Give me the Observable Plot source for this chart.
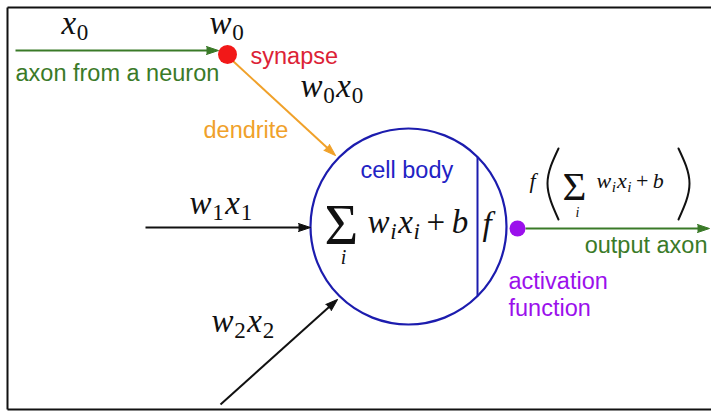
<!DOCTYPE html>
<html>
<head>
<meta charset="utf-8">
<script src="https://cdn.jsdelivr.net/npm/d3@7"></script>
<script src="https://cdn.jsdelivr.net/npm/@observablehq/plot@0.6"></script>
<style>
  html, body { margin: 0; padding: 0; background: #fff; }
  #chart svg { display: block; }
</style>
</head>
<body>
<div id="chart"></div>
<script>
// ---- Diagram data (coordinates in the 711 x 411 drawing space) ----
const arrows = [
  {id: "axon",     kind: "axon",     x1: 15,  y1: 50,  x2: 218, y2: 50},
  {id: "dendrite", kind: "dendrite", x1: 233, y1: 61,  x2: 335, y2: 155},
  {id: "input1",   kind: "input",    x1: 145, y1: 227, x2: 310, y2: 227},
  {id: "input2",   kind: "input",    x1: 220, y1: 404, x2: 337, y2: 299},
  {id: "output",   kind: "axon",     x1: 525, y1: 228, x2: 709, y2: 228}
];
const nodes = [
  {id: "synapse",    kind: "synapse",    x: 227, y: 54,  r: 9.5},
  {id: "activation", kind: "activation", x: 517, y: 228, r: 8}
];
const cellBody = [{cx: 408, cy: 226, r: 98, chordX: 477}];
const frameSegments = [
  {x1: 7, y1: 7,   x2: 711, y2: 7},
  {x1: 7, y1: 7,   x2: 7,   y2: 409},
  {x1: 7, y1: 409, x2: 711, y2: 409}
];
const wordLabels = [
  {text: "axon from a neuron", kind: "axon",        x: 15,  y: 80,  anchor: "start"},
  {text: "synapse",            kind: "synapseText", x: 250, y: 63,  anchor: "start"},
  {text: "dendrite",           kind: "dendrite",    x: 203, y: 137, anchor: "start"},
  {text: "cell body",          kind: "body",        x: 360, y: 177, anchor: "start"},
  {text: "output axon",        kind: "axon",        x: 707, y: 252, anchor: "end"},
  {text: "activation",         kind: "activation",  x: 508, y: 288, anchor: "start"},
  {text: "function",           kind: "activation",  x: 508, y: 315, anchor: "start"}
];
const mathLabels = [
  {tex: "x_0",        x: 61,  y: 33,  group: "big"},
  {tex: "w_0",        x: 209, y: 33,  group: "big"},
  {tex: "w_0x_0",     x: 300, y: 96,  group: "big"},
  {tex: "w_1x_1",     x: 189, y: 213, group: "big"},
  {tex: "w_2x_2",     x: 211, y: 331, group: "big"},
  {tex: "w_ix_i+b",   x: 367, y: 232, group: "big"},
  {tex: "f",          x: 482, y: 234, group: "big"},
  {tex: "f",          x: 529, y: 187, group: "small"},
  {tex: "w_ix_i+b",   x: 596, y: 187, group: "small"}
];
const sums = [
  {x: 324, y: 243, ix: 343, iy: 263, group: "big"},
  {x: 562, y: 199, ix: 577, iy: 216, group: "small"}
];
const parens = [
  {side: "left",  x: 558, y: 148}, {side: "left",  x: 547, y: 183}, {side: "left",  x: 558, y: 219},
  {side: "right", x: 678, y: 148}, {side: "right", x: 689, y: 183}, {side: "right", x: 678, y: 219}
];

// ---- Styles ----
const colors = {
  axon: "#3a7a28", dendrite: "#f0a12a", input: "#111111", synapse: "#f21818",
  synapseText: "#dc2236", activation: "#9b10ec", body: "#2222c4", cell: "#1c1cae"
};
const mathFont = "Liberation Serif";
const sumFont = "Liberation Serif, serif";
const sansFont = "Liberation Sans, Arial, sans-serif";
const sizes = {big: 33, small: 22, sumBig: 58, sumSmall: 41, idxBig: 20, idxSmall: 14};

// shortened shafts so the filled heads cover the line ends
const shafts = arrows.map(a => {
  const L = Math.hypot(a.x2 - a.x1, a.y2 - a.y1);
  const ux = (a.x2 - a.x1) / L, uy = (a.y2 - a.y1) / L;
  return {...a, sx2: a.x2 - ux * 8, sy2: a.y2 - uy * 8,
          angle: Math.atan2(a.x2 - a.x1, -(a.y2 - a.y1)) * 180 / Math.PI};
});
const chord = cellBody.map(c => {
  const h = Math.sqrt(c.r * c.r - (c.chordX - c.cx) ** 2);
  return {x1: c.chordX, y1: c.cy - h, x2: c.chordX, y2: c.cy + h};
});

const textCommon = {x: "x", y: "y", lineAnchor: "bottom"};

const plot = Plot.plot({
  width: 711, height: 411,
  margin: 0,
  x: {domain: [0, 711], range: [0, 711], axis: null},
  y: {domain: [0, 411], range: [0, 411], axis: null},
  r: {type: "identity"},
  style: {background: "#fff"},
  marks: [
    Plot.link(frameSegments, {x1: "x1", y1: "y1", x2: "x2", y2: "y2", stroke: "#111", strokeWidth: 2}),
    Plot.dot(cellBody, {x: "cx", y: "cy", r: "r", fill: "none", stroke: colors.cell, strokeWidth: 2.2}),
    Plot.link(chord, {x1: "x1", y1: "y1", x2: "x2", y2: "y2", stroke: colors.cell, strokeWidth: 2}),
    Plot.link(shafts, {x1: "x1", y1: "y1", x2: "sx2", y2: "sy2",
      stroke: d => colors[d.kind], strokeWidth: 2}),
    Plot.vector(shafts, {x: "x2", y: "y2", rotate: "angle", length: 12, r: 4, shape: "spike", anchor: "end",
      fill: d => colors[d.kind], stroke: d => colors[d.kind], strokeWidth: 1}),
    Plot.dot(nodes, {x: "x", y: "y", r: "r", fill: d => colors[d.kind], stroke: "none"}),
    Plot.line(parens, {x: "x", y: "y", z: "side", curve: "natural", stroke: "#111", strokeWidth: 2}),
    Plot.text(wordLabels.filter(d => d.anchor === "start"), {...textCommon, text: "text", textAnchor: "start",
      fill: d => colors[d.kind], fontFamily: sansFont, fontSize: 23.5}),
    Plot.text(wordLabels.filter(d => d.anchor === "end"), {...textCommon, text: "text", textAnchor: "end",
      fill: d => colors[d.kind], fontFamily: sansFont, fontSize: 23.5}),
    Plot.text(mathLabels.filter(d => d.group === "big"), {...textCommon, text: "tex", textAnchor: "start",
      fill: "#111", fontFamily: mathFont, fontSize: sizes.big}),
    Plot.text(mathLabels.filter(d => d.group === "small"), {...textCommon, text: "tex", textAnchor: "start",
      fill: "#111", fontFamily: mathFont, fontSize: sizes.small}),
    Plot.text(sums.filter(d => d.group === "big"), {...textCommon, text: () => "Σ", textAnchor: "start",
      fill: "#111", fontFamily: sumFont, fontSize: sizes.sumBig}),
    Plot.text(sums.filter(d => d.group === "small"), {...textCommon, text: () => "Σ", textAnchor: "start",
      fill: "#111", fontFamily: sumFont, fontSize: sizes.sumSmall}),
    Plot.text(sums.filter(d => d.group === "big"), {x: "ix", y: "iy", lineAnchor: "bottom", text: () => "i",
      textAnchor: "middle", fill: "#111", fontFamily: sumFont, fontStyle: "italic", fontSize: sizes.idxBig}),
    Plot.text(sums.filter(d => d.group === "small"), {x: "ix", y: "iy", lineAnchor: "bottom", text: () => "i",
      textAnchor: "middle", fill: "#111", fontFamily: sumFont, fontStyle: "italic", fontSize: sizes.idxSmall})
  ]
});

// ---- typeset the tiny math markup (x_0 -> x with subscript 0) ----
const NS = "http://www.w3.org/2000/svg";
const texSet = new Set(mathLabels.map(d => d.tex));
d3.select(plot).selectAll("g").each(function() {
  const g = this;
  if (g.getAttribute("font-family") !== mathFont) return;
  const size = +g.getAttribute("font-size") || sizes.big;
  d3.select(g).selectAll("text").each(function() {
    const el = this;
    const tex = el.textContent;
    if (!texSet.has(tex)) return;
    el.textContent = "";
    let shifted = 0, pend = 0;
    for (let k = 0; k < tex.length; k++) {
      let c = tex[k], sub = false;
      if (c === " ") continue;
      if (c === "_") { sub = true; c = tex[++k]; }
      const t = document.createElementNS(NS, "tspan");
      const fs = sub ? size * 0.7 : size;
      const shift = sub ? size * 0.2 : 0;
      let dx = pend + (sub ? size * 0.02 : (k > 0 ? size * 0.05 : 0));
      pend = 0;
      if (c === "+") { dx += size * 0.15; pend = size * 0.15; }
      t.setAttribute("dy", shift - shifted);
      t.setAttribute("dx", dx);
      shifted = shift;
      t.setAttribute("font-size", fs);
      t.setAttribute("font-style", /[a-z]/.test(c) ? "italic" : "normal");
      t.textContent = c;
      el.appendChild(t);
    }
  });
});

document.getElementById("chart").appendChild(plot);
</script>
</body>
</html>
